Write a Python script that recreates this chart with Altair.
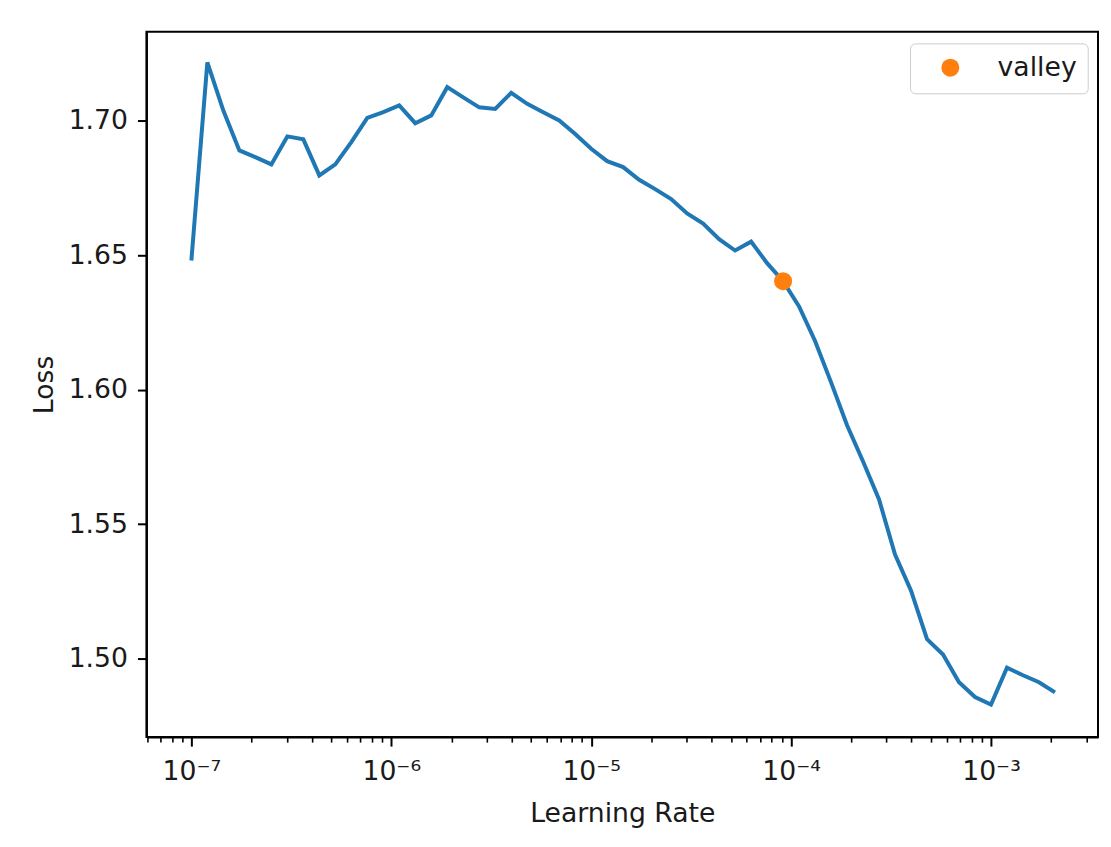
import altair as alt
import pandas as pd

# ---- data ----
learning_rates = [
    1.000e-7, 1.202e-7, 1.445e-7, 1.738e-7, 2.089e-7, 2.512e-7, 3.020e-7, 3.631e-7,
    4.365e-7, 5.248e-7, 6.310e-7, 7.586e-7, 9.120e-7, 1.096e-6, 1.318e-6, 1.585e-6,
    1.905e-6, 2.291e-6, 2.754e-6, 3.311e-6, 3.981e-6, 4.786e-6, 5.754e-6, 6.918e-6,
    8.318e-6, 1.000e-5, 1.202e-5, 1.445e-5, 1.738e-5, 2.089e-5, 2.512e-5, 3.020e-5,
    3.631e-5, 4.365e-5, 5.248e-5, 6.310e-5, 7.586e-5, 9.120e-5, 1.096e-4, 1.318e-4,
    1.585e-4, 1.905e-4, 2.291e-4, 2.754e-4, 3.311e-4, 3.981e-4, 4.786e-4, 5.754e-4,
    6.918e-4, 8.318e-4, 1.000e-3, 1.202e-3, 1.445e-3, 1.738e-3, 2.089e-3,
]
losses = [
    1.6480, 1.7216, 1.7037, 1.6889, 1.6864, 1.6837, 1.6941, 1.6930,
    1.6796, 1.6837, 1.6920, 1.7010, 1.7031, 1.7056, 1.6990, 1.7019,
    1.7124, 1.7086, 1.7049, 1.7043, 1.7103, 1.7062, 1.7031, 1.7000,
    1.6950, 1.6895, 1.6849, 1.6827, 1.6780, 1.6745, 1.6708, 1.6655,
    1.6617, 1.6559, 1.6517, 1.6550, 1.6470, 1.6403, 1.6309, 1.6181,
    1.6027, 1.5868, 1.5733, 1.5592, 1.5387, 1.5253, 1.5073, 1.5016,
    1.4913, 1.4858, 1.4830, 1.4967, 1.4939, 1.4913, 1.4875,
]
valley_lr = [9.120e-5]
valley_loss = [1.6403]
valley_label = ["valley"]

x_major_ticks = [1e-7, 1e-6, 1e-5, 1e-4, 1e-3]
x_tick_labels = ["10⁻⁷", "10⁻⁶", "10⁻⁵", "10⁻⁴", "10⁻³"]
x_minor_ticks = [
    6e-8, 7e-8, 8e-8, 9e-8,
    2e-7, 3e-7, 4e-7, 5e-7, 6e-7, 7e-7, 8e-7, 9e-7,
    2e-6, 3e-6, 4e-6, 5e-6, 6e-6, 7e-6, 8e-6, 9e-6,
    2e-5, 3e-5, 4e-5, 5e-5, 6e-5, 7e-5, 8e-5, 9e-5,
    2e-4, 3e-4, 4e-4, 5e-4, 6e-4, 7e-4, 8e-4, 9e-4,
    2e-3, 3e-3,
]
y_ticks = [1.50, 1.55, 1.60, 1.65, 1.70]

x_domain = [5.96e-8, 3.43e-3]
y_domain = [1.4709, 1.7330]

line_df = pd.DataFrame({"lr": learning_rates, "loss": losses})
valley_df = pd.DataFrame({"lr": valley_lr, "loss": valley_loss, "series": valley_label})

FONT = "DejaVu Sans"
FS = 26.7
TEXT = "#1a1a1a"

label_array = "[" + ",".join("'" + s + "'" for s in x_tick_labels) + "]"
exp_expr = "round(log(datum.value)/LN10)"
is_major = f"abs(log(datum.value)/LN10 - {exp_expr}) < 0.001"
x_label_expr = f"({is_major}) ? {label_array}[{exp_expr}+7] : ''"

x_scale = alt.Scale(type="log", domain=x_domain, nice=False)
y_scale = alt.Scale(domain=y_domain, nice=False, zero=False)

x_axis = alt.Axis(
    values=x_major_ticks + x_minor_ticks,
    labelExpr=x_label_expr,
    title="Learning Rate",
    grid=False,
    domainColor="black",
    domainWidth=2,
    tickColor="black",
    tickSize={"condition": {"test": is_major, "value": 9}, "value": 5},
    tickWidth={"condition": {"test": is_major, "value": 2}, "value": 1.6},
    labelFont=FONT,
    labelFontSize=FS,
    labelColor=TEXT,
    labelPadding=12,
    labelFlush=False,
    labelOverlap=False,
    titleFont=FONT,
    titleFontSize=FS,
    titleFontWeight="normal",
    titleColor=TEXT,
    titleBaseline="alphabetic",
    titleX=476.7,
    titleY=85,
)

y_axis = alt.Axis(
    values=y_ticks,
    format=".2f",
    title="Loss",
    grid=False,
    domainColor="black",
    domainWidth=2,
    tickColor="black",
    tickSize=9,
    tickWidth=2,
    labelFont=FONT,
    labelFontSize=FS,
    labelColor=TEXT,
    labelPadding=10,
    labelFlush=False,
    titleFont=FONT,
    titleFontSize=FS,
    titleFontWeight="normal",
    titleColor=TEXT,
    titleAngle=270,
    titleBaseline="alphabetic",
    titleAlign="center",
    titleX=-93.7,
    titleY=353.4,
)

line = alt.Chart(line_df).mark_line(color="#1f77b4", strokeWidth=4).encode(
    x=alt.X("lr:Q", scale=x_scale, axis=x_axis),
    y=alt.Y("loss:Q", scale=y_scale, axis=y_axis),
)

valley = alt.Chart(valley_df).mark_circle(size=324, opacity=1).encode(
    x=alt.X("lr:Q", scale=x_scale, axis=x_axis),
    y=alt.Y("loss:Q", scale=y_scale, axis=y_axis),
    color=alt.Color(
        "series:N",
        scale=alt.Scale(domain=valley_label, range=["#ff7f0e"]),
        legend=alt.Legend(
            title=None,
            orient="none",
            legendX=765,
            legendY=11.7,
            padding=11,
            strokeColor="#cccccc",
            fillColor="white",
            cornerRadius=5,
            symbolType="circle",
            symbolSize=324,
            symbolOffset=16,
            labelOffset=34,
            labelFont=FONT,
            labelFontSize=FS,
            labelColor=TEXT,
        ),
    ),
)

chart = (
    alt.layer(line, valley)
    .properties(
        width=953.3,
        height=706.7,
        padding={"left": 138.7, "top": 23, "right": 5, "bottom": 95},
        autosize=alt.AutoSizeParams(type="none"),
        background="white",
    )
    .configure_view(stroke="black", strokeWidth=2)
)

chart.save("out.html", embed_options={"renderer": "svg", "actions": False})
